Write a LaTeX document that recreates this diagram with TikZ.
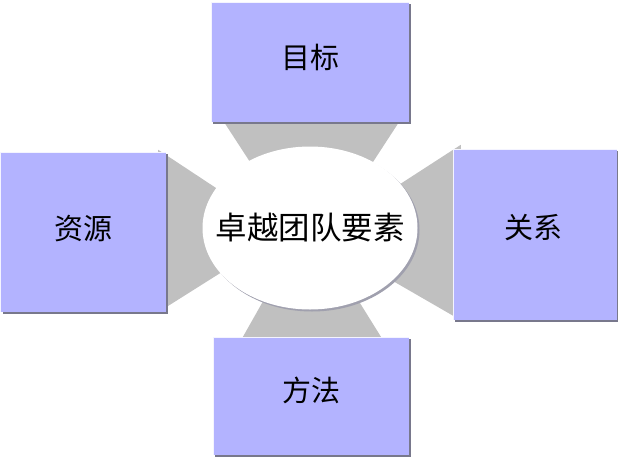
\documentclass[tikz,border=0pt]{standalone}
\usepackage{fontspec}
\newfontfamily\cjk{Noto Sans CJK SC}
\usetikzlibrary{calc,shapes.geometric}
\definecolor{boxblue}{RGB}{179,179,255}
\definecolor{conngray}{RGB}{192,192,192}
\definecolor{shadowgray}{RGB}{120,120,140}
\tikzset{
  boxnode/.style={draw=none, inner sep=0pt},
  boxshadow/.style={fill=shadowgray, draw=none},
  lbl/.style={font=\cjk\fontsize{29}{32}\selectfont, inner sep=0pt},
  conn/.style={fill=conngray, draw=none},
}
\begin{document}
\begin{tikzpicture}[x=1pt,y=-1pt]
\useasboundingbox (0,0) rectangle (618,458);
\coordinate (ellc) at (310,228);
\node[boxnode, minimum width=198pt, minimum height=120pt] (top) at (310,62) {};
\node[boxnode, minimum width=165pt, minimum height=160pt] (left) at (83.5,232) {};
\node[boxnode, minimum width=164pt, minimum height=171pt] (right) at (535,234.5) {};
\node[boxnode, minimum width=196pt, minimum height=118pt] (bottom) at (311,396) {};
% connectors behind
\fill[conn] ($(top.south west)+(12,-2)$) -- ($(top.south east)+(-9,-2)$) -- ($(ellc)+(20,0)$) -- ($(ellc)+(-17,0)$) -- cycle;
\fill[conn] ($(left.north east)+(-8,-2)$) -- ($(ellc)+(-50,-11)$) -- ($(ellc)+(-50,20)$) -- ($(left.south east)+(-8,0)$) -- cycle;
\fill[conn] ($(right.north west)+(8,-4)$) -- ($(ellc)+(50,-18)$) -- ($(ellc)+(50,34)$) -- ($(right.south west)+(8,0)$) -- cycle;
\fill[conn] ($(bottom.north west)+(29,2)$) -- ($(bottom.north east)+(-27,2)$) -- ($(ellc)+(17,22)$) -- ($(ellc)+(-18,22)$) -- cycle;
% ellipse with shadow
\fill[shadowgray!70] ($(ellc)+(2,2)$) ellipse [x radius=107.5pt, y radius=81.5pt];
\node[ellipse, fill=white, draw=none, minimum width=215pt, minimum height=163pt, inner sep=0pt] (ell) at (ellc) {};
\node[lbl, font=\cjk\fontsize{31.5}{34}\selectfont] (elltext) at (ell.center) {卓越团队要素};
% boxes with shadows
\foreach \b in {top,left,right,bottom}{
  \fill[boxshadow] ($(\b.north west)+(2,2)$) rectangle ($(\b.south east)+(2,2)$);
  \fill[boxblue] (\b.north west) rectangle (\b.south east);
  \draw[white!85!boxblue, line width=0.6pt] (\b.south west) -- (\b.north west) -- (\b.north east);
}
\node[lbl] (toptext) at ($(top.center)+(0,-5)$) {目标};
\node[lbl] (lefttext) at ($(left.center)+(0,-3)$) {资源};
\node[lbl] (righttext) at ($(right.center)+(-2,-7)$) {关系};
\node[lbl] (bottomtext) at ($(bottom.center)+(0,-6)$) {方法};
\end{tikzpicture}
\end{document}
